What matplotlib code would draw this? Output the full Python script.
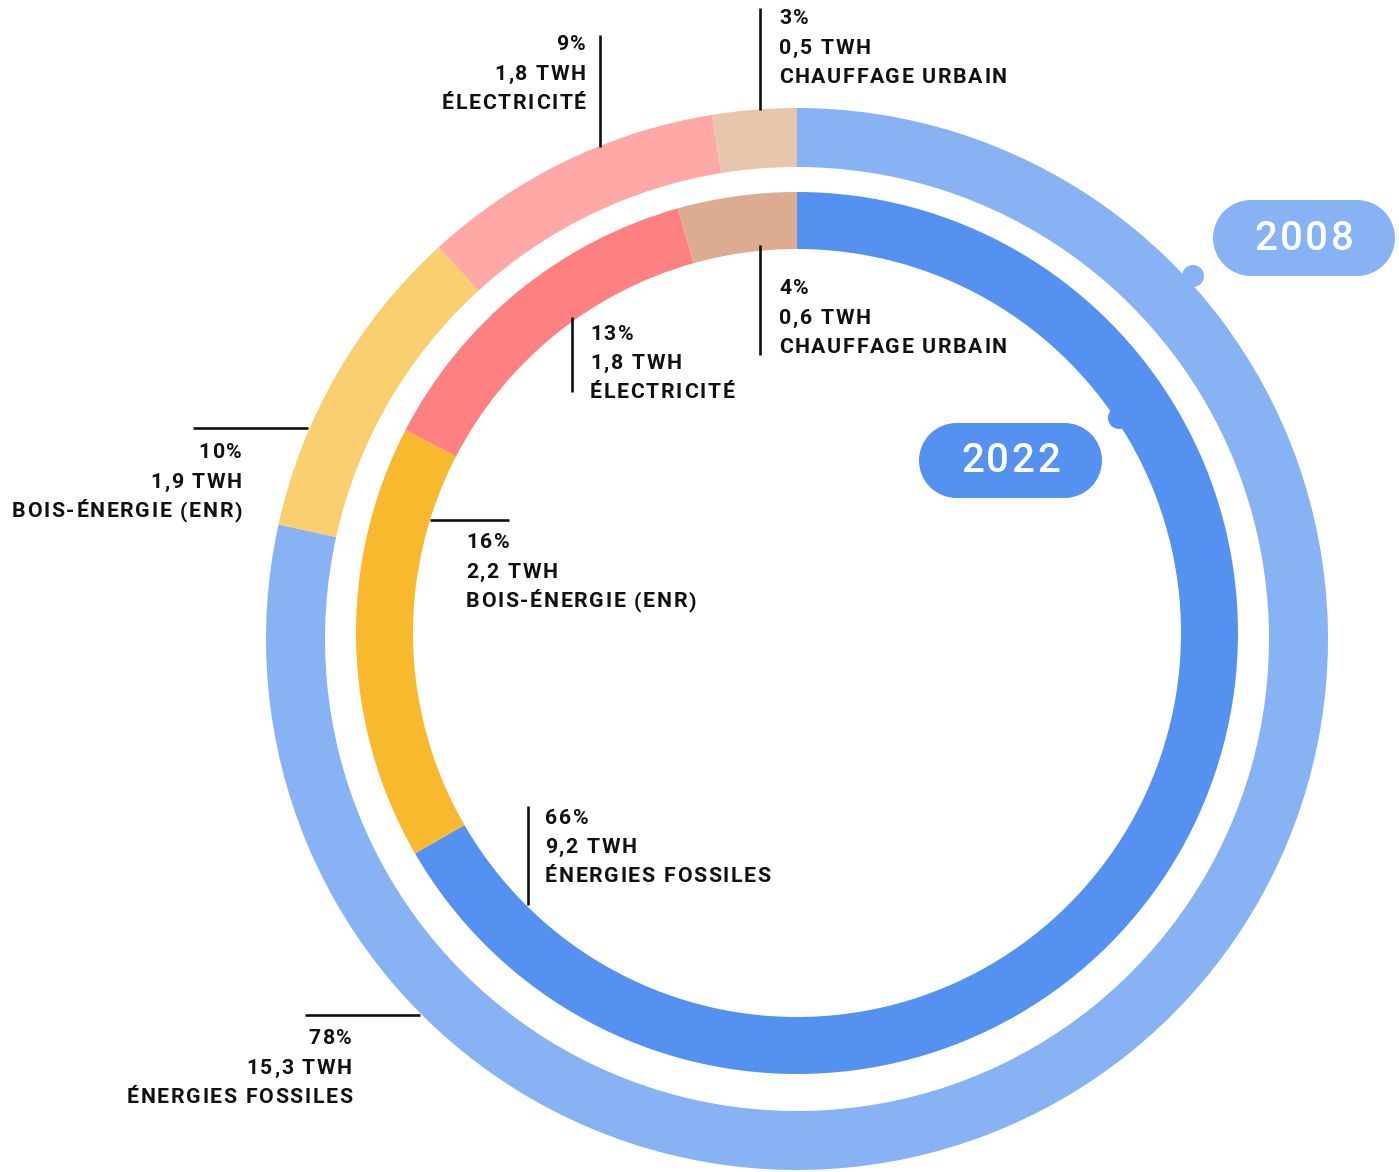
import matplotlib.pyplot as plt
from matplotlib.patches import Rectangle, Circle
from matplotlib.font_manager import FontProperties, findfont
from matplotlib.ft2font import FT2Font, LoadFlags

# Consommation d'énergie par source, 2008 vs 2022
sources = ["ÉNERGIES FOSSILES", "BOIS-ÉNERGIE (ENR)", "ÉLECTRICITÉ", "CHAUFFAGE URBAIN"]
twh_2008 = [15.3, 1.9, 1.8, 0.5]
pct_2008 = [78, 10, 9, 3]
twh_2022 = [9.2, 2.2, 1.8, 0.6]
pct_2022 = [66, 16, 13, 4]
years = ["2008", "2022"]

colors_2008 = ["#87B3F5", "#F9CF70", "#FFA8A6", "#E8C6AE"]
colors_2022 = ["#5591F0", "#F8B92E", "#FF8080", "#DDAB8F"]

W, H = 1399, 1172
DPI = 100
FONT = "Roboto"

fig = plt.figure(figsize=(W / DPI, H / DPI), dpi=DPI)
ax = fig.add_axes([0, 0, 1, 1])


def Y(y):
    # work in top-down pixel coordinates
    return H - y


ax.pie(twh_2008, radius=531, center=(797, Y(639)), startangle=90,
       counterclock=False, colors=colors_2008,
       wedgeprops=dict(width=59, linewidth=0))
ax.pie(twh_2022, radius=441, center=(797, Y(633)), startangle=90,
       counterclock=False, colors=colors_2022,
       wedgeprops=dict(width=57, linewidth=0))

ax.set_xlim(0, W)
ax.set_ylim(0, H)
ax.set_aspect("equal")
ax.axis("off")


def spaced_text(x, y, s, size, weight, color, ha="left", track=1.7):
    """matplotlib has no letter-spacing, so place glyphs one by one."""
    prop = FontProperties(family=FONT, weight=weight, size=size)
    ft = FT2Font(findfont(prop))
    ft.set_size(size, 72)
    adv = []
    for c in s:
        g = ft.load_char(ord(c), flags=LoadFlags.NO_HINTING)
        adv.append(g.linearHoriAdvance / 65536 * DPI / 72 + track)
    total = sum(adv) - track
    if ha == "right":
        x -= total
    elif ha == "center":
        x -= total / 2
    for c, a in zip(s, adv):
        if c != " ":
            ax.text(x, y, c, ha="left", va="center", fontproperties=prop, color=color)
        x += a


def fmt(v):
    return f"{v:.1f}".replace(".", ",")


def label(x, y, pct, twh, name, ha):
    lines = [f"{pct}%", f"{fmt(twh)} TWH", name]
    for i, s in enumerate(lines):
        spaced_text(x, Y(y + i * 29.3), s, 15.3, "bold", "#111111", ha=ha)


def vline(x, y0, y1):
    ax.plot([x, x], [Y(y0), Y(y1)], color="#111111", lw=1.9, solid_capstyle="butt")


def hline(y, x0, x1):
    ax.plot([x0, x1], [Y(y), Y(y)], color="#111111", lw=1.9, solid_capstyle="butt")


# 2008 (anneau extérieur)
vline(760, 8, 110)
label(779, 19, pct_2008[3], twh_2008[3], sources[3], "left")
vline(600, 35, 147)
label(586, 45, pct_2008[2], twh_2008[2], sources[2], "right")
hline(428, 193, 308)
label(242, 453, pct_2008[1], twh_2008[1], sources[1], "right")
hline(1015, 305, 420)
label(352, 1039, pct_2008[0], twh_2008[0], sources[0], "right")

# 2022 (anneau intérieur)
vline(760, 245, 355)
label(779, 289, pct_2022[3], twh_2022[3], sources[3], "left")
vline(572, 317, 392)
label(590, 334, pct_2022[2], twh_2022[2], sources[2], "left")
hline(520, 430, 509)
label(466, 543, pct_2022[1], twh_2022[1], sources[1], "left")
vline(528, 806, 905)
label(545, 818, pct_2022[0], twh_2022[0], sources[0], "left")


def badge(x0, y0, w, h, text, color, dot):
    # pill shape: rectangle with a half disc at each end
    r = h / 2
    yc = Y(y0 + r)
    ax.add_patch(Rectangle((x0 + r, yc - r), w - h, h, fc=color, ec="none"))
    ax.add_patch(Circle((x0 + r, yc), r, fc=color, ec="none"))
    ax.add_patch(Circle((x0 + w - r, yc), r, fc=color, ec="none"))
    ax.add_patch(Circle((dot[0], Y(dot[1])), 11, fc=color, ec="none"))
    spaced_text(x0 + w / 2, yc - 1, text, 29, "medium", "white",
                ha="center", track=2.5)


badge(1213, 200, 182, 76, years[0], colors_2008[0], (1193, 276))
badge(919, 423, 183, 75, years[1], colors_2022[0], (1119, 418))

fig.savefig("out.png", dpi=DPI)
